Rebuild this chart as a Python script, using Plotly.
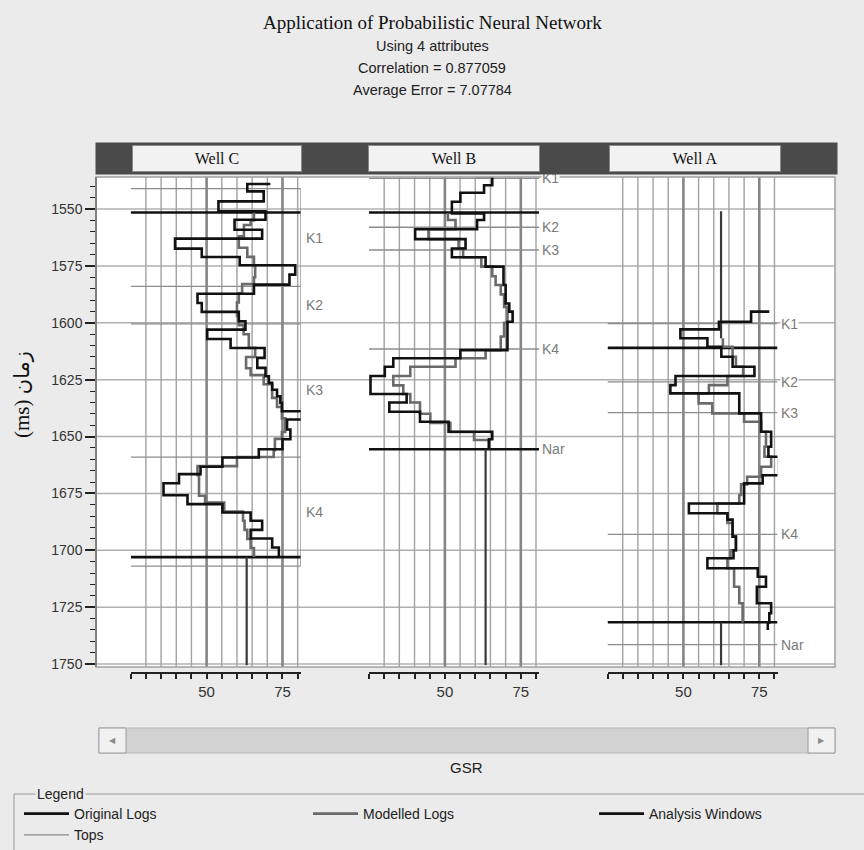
import plotly.graph_objects as go

SANS = "Liberation Sans, Arial, sans-serif"
SERIF = "Liberation Serif, DejaVu Serif, serif"

# depth axis (ms) and GSR scale
depth_ticks = [1550, 1575, 1600, 1625, 1650, 1675, 1700, 1725, 1750]
gsr_ticks = [25, 30, 35, 40, 45, 50, 55, 60, 65, 70, 75, 80]
gsr_labels = [50, 75]
gsr_grid = [30, 35, 40, 45, 55, 60, 65, 70, 80]
gsr_grid_major = [50, 75]

wells = ["Well C", "Well B", "Well A"]

# ---- Well C ----  (interval tops in ms, last entry = base of last interval)
wc_orig_t = [1539.0, 1539.0, 1542.2, 1546.6, 1551.0, 1554.7, 1559.1, 1563.0, 1567.4, 1571.1,
             1574.7, 1578.8, 1583.2, 1587.2, 1591.3, 1595.2, 1599.3, 1603.0, 1607.1, 1611.1,
             1615.4, 1619.8, 1623.5, 1626.4, 1629.4, 1632.3, 1635.2, 1638.9, 1642.5, 1646.9,
             1651.2, 1655.6, 1659.2, 1663.3, 1666.5, 1670.5, 1675.8, 1679.7, 1683.4, 1687.0,
             1691.0, 1694.8, 1698.8, 1702.5]
wc_orig_v = [71.0, 63.4, 68.8, 53.9, 69.4, 59.2, 68.3, 39.6, 48.4, 60.9,
             79.2, 77.3, 65.6, 47.0, 48.4, 60.6, 62.8, 50.2, 57.9, 69.1,
             66.7, 69.4, 70.5, 71.6, 73.2, 74.3, 74.8, 81.4, 76.5, 77.6,
             75.0, 67.2, 55.2, 48.0, 40.9, 35.8, 43.7, 55.2, 64.5, 68.3,
             64.5, 71.6, 73.8]
wc_mod_t = [1551.0, 1555.0, 1557.0, 1562.0, 1567.0, 1571.0, 1575.0, 1580.0, 1583.0, 1587.0,
            1591.0, 1597.0, 1601.0, 1605.0, 1611.0, 1615.0, 1620.0, 1623.0, 1627.0, 1633.0,
            1637.0, 1642.0, 1648.0, 1651.0, 1656.0, 1659.0, 1663.0, 1667.0, 1676.0, 1679.0,
            1683.0, 1687.0, 1691.0, 1695.0, 1699.0, 1703.0]
wc_mod_v = [65.6, 64.5, 62.3, 60.6, 63.4, 65.6, 66.0, 65.6, 61.7, 60.6,
            60.0, 60.6, 62.2, 63.9, 66.0, 63.0, 64.5, 68.8, 71.6, 73.2,
            74.8, 75.9, 74.8, 72.5, 72.1, 60.0, 47.0, 47.5, 49.5, 55.8,
            62.0, 62.5, 63.4, 64.5, 65.6]
wc_ext_v = [63.2]
wc_ext_t = [1703.0, 1750.5]
wc_tops = [1541.0, 1584.0, 1600.5, 1659.0, 1707.0]
wc_top_names = ["K1", "K2", "K3", "K4"]
wc_top_label_t = [1562.5, 1592.0, 1629.5, 1683.0]
wc_windows = [1551.5, 1703.0]

# ---- Well B ----
wb_orig_t = [1535.5, 1535.5, 1539.5, 1542.8, 1546.8, 1551.9, 1554.8, 1558.9, 1563.2, 1567.3,
             1571.2, 1575.3, 1583.4, 1591.5, 1595.1, 1599.5, 1606.0, 1612.0, 1615.6, 1619.3,
             1623.4, 1631.3, 1635.0, 1639.1, 1643.5, 1647.9, 1651.2, 1655.6]
wb_orig_v = [60.1, 65.6, 62.9, 55.1, 52.3, 62.9, 60.6, 40.2, 56.8, 52.3,
             63.4, 69.3, 70.0, 71.2, 72.3, 70.6, 70.6, 55.1, 33.0, 30.2,
             25.5, 37.4, 31.7, 41.8, 51.2, 65.6, 64.5]
wb_mod_t = [1551.9, 1554.8, 1558.9, 1563.2, 1567.3, 1571.2, 1575.3, 1579.5, 1583.4, 1587.5,
            1593.0, 1600.0, 1606.0, 1612.0, 1615.6, 1619.3, 1623.4, 1627.5, 1631.3, 1635.0,
            1640.0, 1644.0, 1648.0, 1651.5, 1655.6]
wb_mod_v = [51.0, 53.5, 44.6, 54.5, 56.0, 62.0, 65.6, 66.7, 68.4, 69.5,
            70.6, 69.5, 68.4, 63.4, 53.5, 38.6, 33.0, 36.3, 38.6, 41.8,
            45.2, 51.8, 59.6, 64.5]
wb_ext_v = [63.4]
wb_ext_t = [1655.6, 1750.5]
wb_tops = [1536.5, 1558.0, 1568.0, 1611.5, 1655.6]
wb_top_names = ["K1", "K2", "K3", "K4", "Nar"]
wb_windows = [1551.5, 1655.6]

# ---- Well A ----
wa_orig_t = [1595.1, 1595.1, 1599.5, 1602.9, 1606.8, 1610.5, 1614.9, 1619.3, 1623.4, 1627.4,
             1631.0, 1639.8, 1647.9, 1654.5, 1658.9, 1667.0, 1670.6, 1679.4, 1683.7, 1686.5,
             1694.0, 1700.0, 1703.5, 1707.9, 1711.6, 1716.0, 1723.3, 1727.7, 1731.7, 1735.0]
wa_orig_v = [78.3, 72.3, 61.7, 49.0, 57.9, 62.5, 66.2, 73.4, 47.4, 45.7,
             68.4, 75.6, 78.9, 78.0, 81.5, 76.1, 70.0, 51.8, 64.5, 66.2,
             67.3, 66.5, 57.9, 74.5, 77.2, 74.2, 78.9, 78.3, 77.8]
wa_mod_t = [1606.8, 1610.5, 1614.9, 1619.3, 1623.4, 1627.4, 1631.0, 1635.4, 1639.8, 1643.5,
            1647.9, 1654.5, 1658.9, 1663.3, 1667.7, 1671.0, 1675.7, 1679.4, 1683.7, 1688.0,
            1694.0, 1700.0, 1703.5, 1707.9, 1716.0, 1723.3, 1731.7]
wa_mod_v = [63.0, 66.2, 67.3, 69.7, 64.5, 58.4, 55.0, 59.5, 70.0, 75.6,
            77.2, 76.7, 78.9, 75.6, 71.0, 69.0, 68.4, 61.2, 64.5, 66.2,
            67.3, 65.5, 64.5, 66.7, 68.4, 69.5]
wa_ext_v = [62.4, 62.4]
wa_ext_t = [(1551.0, 1606.8), (1731.7, 1750.5)]
wa_tops = [1600.3, 1626.0, 1639.5, 1693.0, 1741.5]
wa_top_names = ["K1", "K2", "K3", "K4", "Nar"]
wa_windows = [1611.0, 1731.6]

GSR_MIN, GSR_MAX = 25, 81
track_axes = ["x2", "x3", "x4"]
track_domains = [[0.0470, 0.2770], [0.3694, 0.5995], [0.6922, 0.9222]]

C_ORIG = "#111111"
C_MOD = "#6a6a6a"
C_TOP = "#8c8c8c"


def steps(t, v):
    # step log: value v[i] holds from t[i] to t[i+1]
    return v + [v[-1]], t


def hlines(depths, x0=GSR_MIN, x1=GSR_MAX):
    xs, ys = [], []
    for d in depths:
        xs += [x0, x1, None]
        ys += [d, d, None]
    return xs, ys


fig = go.Figure()

tops_all = [wc_tops, wb_tops, wa_tops]
windows_all = [wc_windows, wb_windows, wa_windows]
orig_all = [(wc_orig_t, wc_orig_v), (wb_orig_t, wb_orig_v), (wa_orig_t, wa_orig_v)]
mod_all = [(wc_mod_t, wc_mod_v), (wb_mod_t, wb_mod_v), (wa_mod_t, wa_mod_v)]

# tops
for i, ax in enumerate(track_axes):
    xs, ys = hlines(tops_all[i])
    if i == 0:
        # Well C tops are boxed on the right side
        xs += [GSR_MAX, GSR_MAX]
        ys += [wc_tops[0], wc_tops[-1]]
    fig.add_trace(go.Scatter(x=xs, y=ys, xaxis=ax, yaxis="y", mode="lines",
                             line=dict(color=C_TOP, width=1.3), name="Tops",
                             showlegend=(i == 0), legend="legend", legendrank=2,
                             hoverinfo="skip"))

# analysis windows
for i, ax in enumerate(track_axes):
    xs, ys = hlines(windows_all[i])
    fig.add_trace(go.Scatter(x=xs, y=ys, xaxis=ax, yaxis="y", mode="lines",
                             line=dict(color=C_ORIG, width=2.6), name="Analysis Windows",
                             showlegend=(i == 0), legend="legend3", hoverinfo="skip"))

# constant modelled value outside the windows
ext = [
    ("x2", [wc_ext_v[0]] * 2, wc_ext_t),
    ("x3", [wb_ext_v[0]] * 2, wb_ext_t),
    ("x4", [wa_ext_v[0]] * 2 + [None] + [wa_ext_v[1]] * 2,
     list(wa_ext_t[0]) + [None] + list(wa_ext_t[1])),
]
for ax, xs, ys in ext:
    fig.add_trace(go.Scatter(x=xs, y=ys, xaxis=ax, yaxis="y", mode="lines",
                             line=dict(color="#3a3a3a", width=2.2), showlegend=False,
                             hoverinfo="skip"))

# modelled logs
for i, ax in enumerate(track_axes):
    x, y = steps(mod_all[i][0], mod_all[i][1])
    fig.add_trace(go.Scatter(x=x, y=y, xaxis=ax, yaxis="y", mode="lines",
                             line=dict(color=C_MOD, width=2.6, shape="vh"),
                             name="Modelled Logs", showlegend=(i == 0), legend="legend2",
                             hoverinfo="skip"))

# original logs
for i, ax in enumerate(track_axes):
    x, y = steps(orig_all[i][0], orig_all[i][1])
    fig.add_trace(go.Scatter(x=x, y=y, xaxis=ax, yaxis="y", mode="lines",
                             line=dict(color=C_ORIG, width=2.6, shape="vh"),
                             name="Original Logs", showlegend=(i == 0), legend="legend",
                             legendrank=1, hoverinfo="skip"))

shapes = []
# white log area and full-width depth grid
shapes.append(dict(type="rect", xref="paper", yref="y domain", x0=0, x1=1, y0=0, y1=1,
                   line=dict(width=0), fillcolor="white", layer="below"))
for d in depth_ticks:
    shapes.append(dict(type="line", xref="paper", yref="y", x0=0, x1=1, y0=d, y1=d,
                       line=dict(color="#b0b0b0", width=1.5), layer="below"))

# vertical GSR grid inside each track
for ax in track_axes:
    for v in gsr_grid:
        shapes.append(dict(type="line", xref=ax, yref="y domain", x0=v, x1=v, y0=0, y1=1,
                           line=dict(color="#a2a2a2", width=1.4), layer="below"))
    for v in gsr_grid_major:
        shapes.append(dict(type="line", xref=ax, yref="y domain", x0=v, x1=v, y0=0, y1=1,
                           line=dict(color="#858585", width=2.6), layer="below"))

# plot frame
shapes.append(dict(type="rect", xref="paper", yref="y domain", x0=0, x1=1, y0=0, y1=1,
                   line=dict(color="#a0a0a0", width=1.5), fillcolor="rgba(0,0,0,0)",
                   layer="above"))

# scrollbar
shapes.append(dict(type="rect", xref="paper", yref="paper", x0=0.004, x1=1.0, y0=-0.1109,
                   y1=-0.1613, line=dict(color="#b8b8b8", width=1), fillcolor="#d2d2d2"))
for x0, x1 in [(0.004, 0.0406), (0.9635, 1.0)]:
    shapes.append(dict(type="rect", xref="paper", yref="paper", x0=x0, x1=x1, y0=-0.1109,
                       y1=-0.1613, line=dict(color="#9a9a9a", width=1), fillcolor="#f1f1f1"))

# legend frame
shapes.append(dict(type="line", xref="paper", yref="paper", x0=-0.111, x1=1.04,
                   y0=-0.244, y1=-0.244, line=dict(color="#9a9a9a", width=1)))
shapes.append(dict(type="line", xref="paper", yref="paper", x0=-0.111, x1=-0.111,
                   y0=-0.244, y1=-0.36, line=dict(color="#9a9a9a", width=1)))

annotations = []


def note(x, y, text, font, **kw):
    a = dict(xref="paper", yref="paper", x=x, y=y, text=text, showarrow=False,
             xanchor="center", yanchor="middle", font=font)
    a.update(kw)
    annotations.append(a)


# top labels
lab_font = dict(family=SANS, size=14, color="#7a7a7a")
for name, d in zip(wc_top_names, wc_top_label_t):
    annotations.append(dict(xref="x2", yref="y", x=GSR_MAX, y=d, text=name, showarrow=False,
                            xanchor="left", yanchor="middle", xshift=3, font=lab_font))
for ax, names, depths in [("x3", wb_top_names, wb_tops), ("x4", wa_top_names, wa_tops)]:
    for name, d in zip(names, depths):
        annotations.append(dict(xref=ax, yref="y", x=GSR_MAX, y=d, text=name, showarrow=False,
                                xanchor="left", yanchor="middle", xshift=2, font=lab_font,
                                bgcolor="white", borderpad=0))

# header band with well names
note(0.5014, 1.0373, "", dict(size=10), width=741, height=31, bgcolor="#4a4a4a", borderpad=0)
for name, cx, w in zip(wells, [0.1637, 0.4851, 0.8112], [168, 170, 170]):
    note(cx, 1.0383, name, dict(family=SERIF, size=16, color="#111"), width=w, height=25,
         bgcolor="#f2f2f2", bordercolor="#8a8a8a", borderwidth=1, borderpad=0)

# titles
note(0.4547, 1.3125, "Application of Probabilistic Neural Network",
     dict(family=SERIF, size=19, color="#111"))
for txt, yy in [("Using 4 attributes", 1.264), ("Correlation = 0.877059", 1.2198),
                ("Average Error = 7.07784", 1.1754)]:
    note(0.4547, yy, txt, dict(family=SANS, size=14.5, color="#222"))

# y title
note(-0.1001, 0.5605, "(ms) زمان",
     dict(family="Liberation Serif, DejaVu Sans, serif", size=21, color="#111"),
     textangle=-90)

# scrollbar arrows, axis name, legend caption
note(0.0223, -0.1361, "◀", dict(family="DejaVu Sans", size=8, color="#8a8a8a"))
note(0.9818, -0.1361, "▶", dict(family="DejaVu Sans", size=8, color="#8a8a8a"))
note(0.5007, -0.1915, "GSR", dict(family=SANS, size=15, color="#222"))
note(-0.0474, -0.244, "Legend", dict(family=SANS, size=14, color="#222"),
     bgcolor="#ebebeb", borderpad=1)

layout_axes = {}
for ax, dom in zip(track_axes, track_domains):
    key = "xaxis" + ax[1:]
    layout_axes[key] = dict(
        domain=dom, range=[GSR_MIN, GSR_MAX], anchor="free", position=0,
        tickvals=gsr_ticks,
        ticktext=[str(v) if v in gsr_labels else "" for v in gsr_ticks],
        ticks="outside", ticklen=5, tickwidth=1.5, tickcolor="#222",
        showline=True, linecolor="#222", linewidth=1.5,
        showgrid=False, zeroline=False, automargin=False,
        tickfont=dict(family=SANS, size=15, color="#333"),
    )

leg_common = dict(orientation="v", xref="container", yref="container", y=0.0612,
                  xanchor="left", yanchor="top", itemwidth=45,
                  font=dict(family=SANS, size=14, color="#222"), bgcolor="rgba(0,0,0,0)",
                  traceorder="normal", tracegroupgap=0)

fig.update_layout(
    width=864, height=850,
    margin=dict(l=96, r=29, t=177, b=177, autoexpand=False),
    paper_bgcolor="#ebebeb", plot_bgcolor="white",
    yaxis=dict(domain=[0.0121, 1], range=[1751.3, 1535.9], anchor="free", position=0,
               automargin=False,
               tickvals=depth_ticks, ticks="outside", ticklen=10, tickwidth=1.5,
               tickcolor="#222",
               minor=dict(tickmode="linear", tick0=0, dtick=5, ticks="outside", ticklen=5,
                          tickwidth=1.2, tickcolor="#222", showgrid=False),
               showline=True, linecolor="#222", linewidth=1.5,
               showgrid=False, zeroline=False,
               tickfont=dict(family=SANS, size=14, color="#333")),
    shapes=shapes,
    annotations=annotations,
    showlegend=True,
    legend=dict(x=0.022, **leg_common),
    legend2=dict(x=0.3565, **leg_common),
    legend3=dict(x=0.6875, **leg_common),
    **layout_axes,
)

fig.write_html("out.html", config={"displayModeBar": False},
               post_script="document.body.style.margin='0';"
                           "document.body.style.background='#ebebeb';")
